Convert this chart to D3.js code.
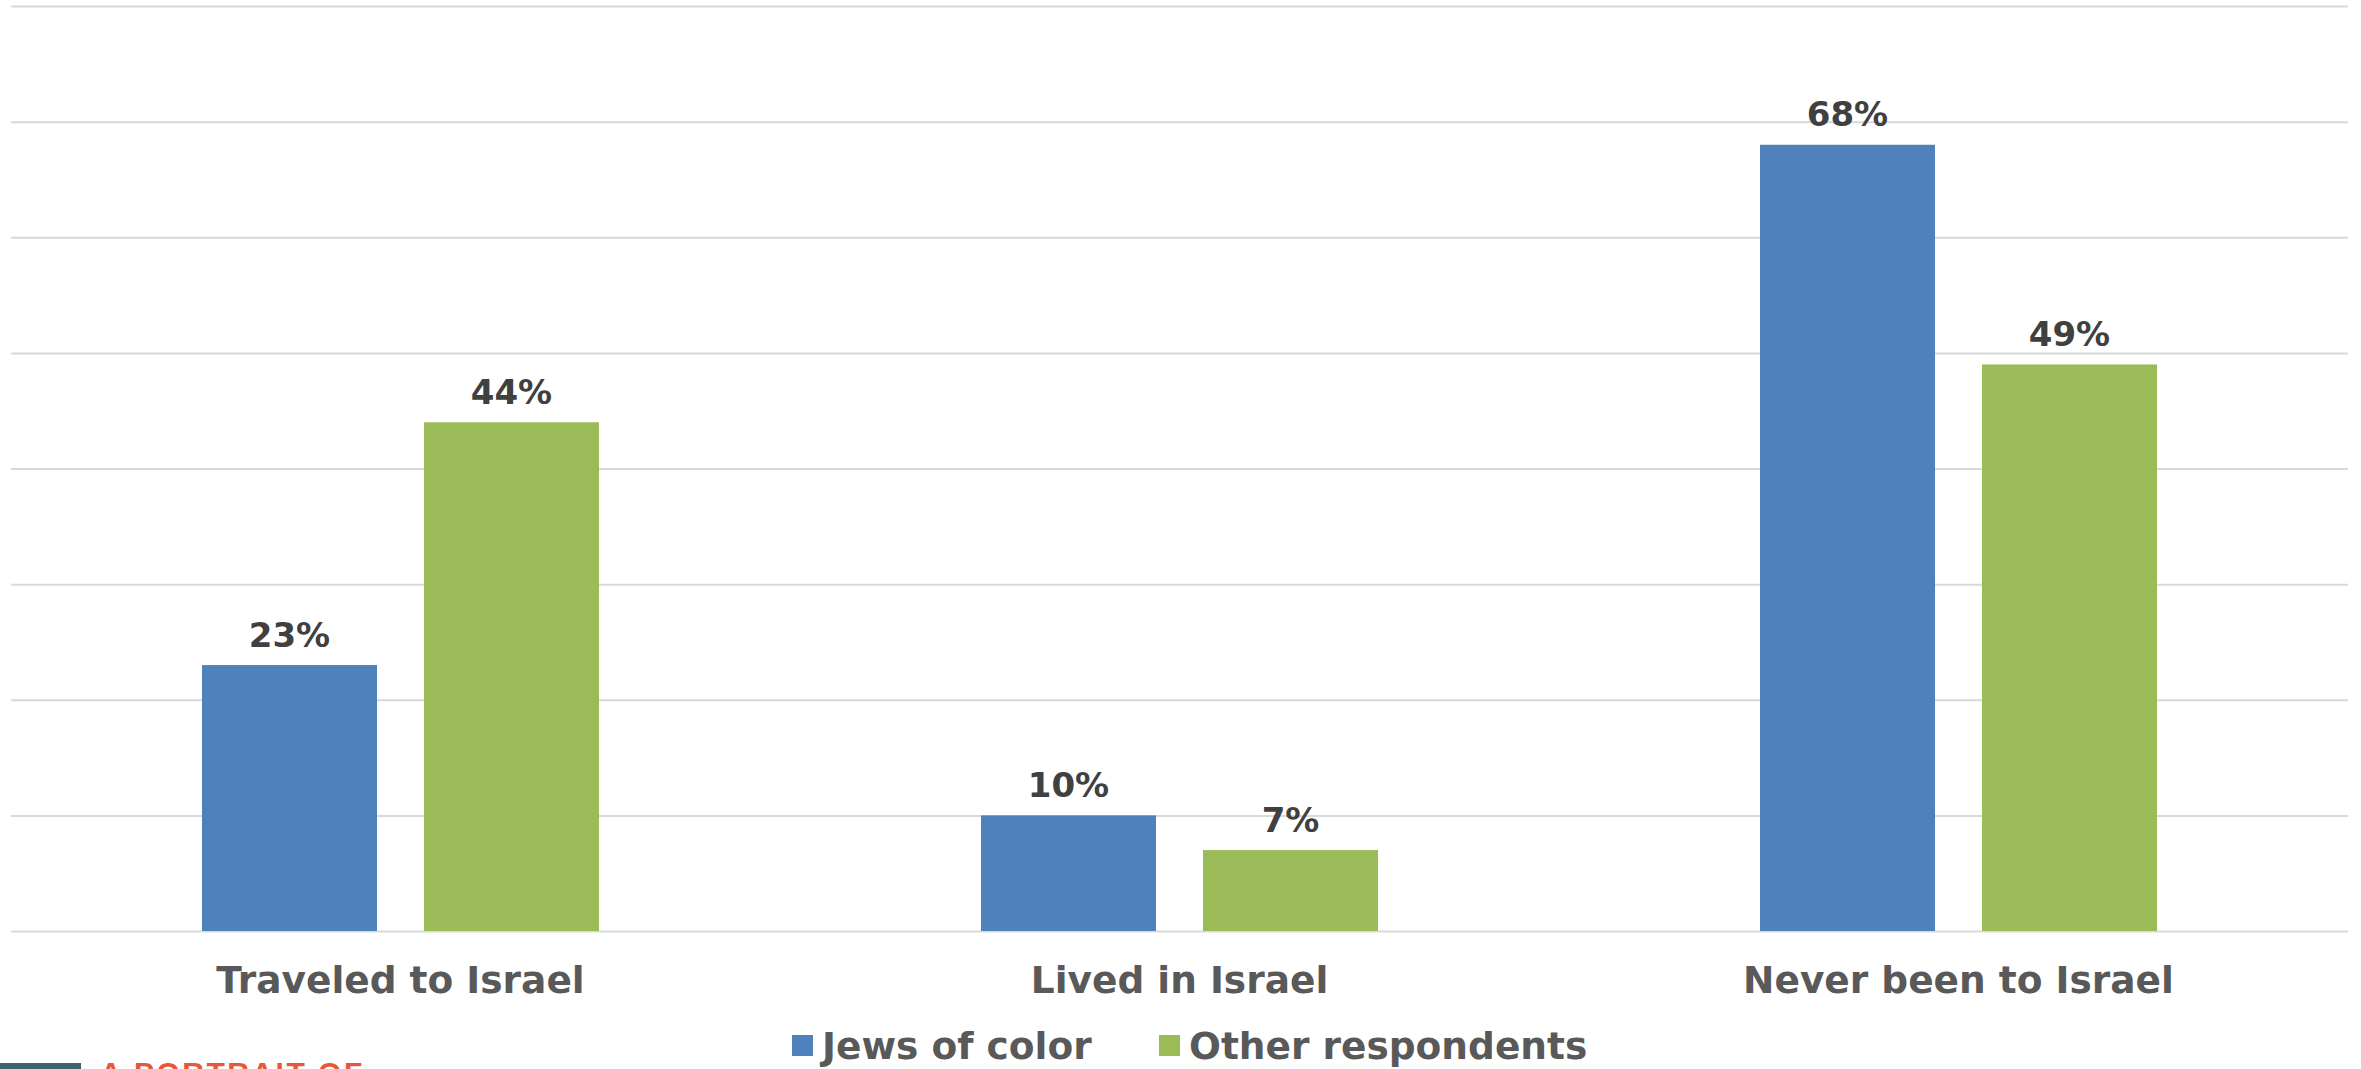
<!DOCTYPE html>
<html>
<head>
<meta charset="utf-8">
<script src="https://cdn.jsdelivr.net/npm/d3@7"></script>
<style>
  html, body { margin: 0; padding: 0; background: #ffffff; overflow: hidden; }
  svg { display: block; }
</style>
</head>
<body>
<svg id="chart" width="2361" height="1069"></svg>
<script>
const categories = ["Traveled to Israel", "Lived in Israel", "Never been to Israel"];
const seriesNames = ["Jews of color", "Other respondents"];
const jewsOfColor = [23, 10, 68];
const otherRespondents = [44, 7, 49];
const yTicks = [0, 10, 20, 30, 40, 50, 60, 70, 80];
const seriesColors = ["#4f81bd", "#9bbb59"];

const seriesValues = [jewsOfColor, otherRespondents];
const data = categories.map((c, i) => ({
  category: c,
  values: seriesNames.map((s, j) => ({ series: s, value: seriesValues[j][i], idx: j }))
}));

const svg = d3.select("#chart");
const plotLeft = 11, plotRight = 2348, plotTop = 6, plotBottom = 931;

const y = d3.scaleLinear().domain([0, 80]).range([plotBottom, plotTop]);
const x0 = d3.scaleBand().domain(categories).range([plotLeft, plotRight]).paddingInner(0).paddingOuter(0);
const groupWidth = 397;
const x1 = d3.scaleBand().domain(seriesNames).range([0, groupWidth]).paddingInner(47 / 222).paddingOuter(0);
const groupOffset = (x0.bandwidth() - groupWidth) / 2;

// gridlines
const yAxis = d3.axisLeft(y).tickValues(yTicks).tickSize(-(plotRight - plotLeft)).tickFormat("");
const gAxis = svg.append("g").attr("transform", `translate(${plotLeft},0)`).call(yAxis);
gAxis.select(".domain").remove();
gAxis.selectAll(".tick line").attr("stroke", "#d9d9d9").attr("stroke-width", 2);

// bars
const groups = svg.append("g").selectAll("g").data(data).join("g")
  .attr("transform", d => `translate(${x0(d.category) + groupOffset},0)`);

groups.selectAll("rect").data(d => d.values).join("rect")
  .attr("x", d => x1(d.series))
  .attr("y", d => y(d.value))
  .attr("width", x1.bandwidth())
  .attr("height", d => y(0) - y(d.value))
  .attr("fill", d => seriesColors[d.idx]);

groups.selectAll("text").data(d => d.values).join("text")
  .attr("x", d => x1(d.series) + x1.bandwidth() / 2)
  .attr("y", d => y(d.value) - 18.5)
  .attr("text-anchor", "middle")
  .attr("font-family", "DejaVu Sans, Verdana, sans-serif")
  .attr("font-weight", "bold")
  .attr("font-size", 34)
  .attr("fill", "#404040")
  .text(d => d.value + "%");

// category labels
const xAxis = d3.axisBottom(x0).tickSize(0).tickPadding(0);
const gX = svg.append("g").attr("transform", `translate(0,${plotBottom})`).call(xAxis);
gX.select(".domain").remove();
gX.selectAll(".tick text")
  .attr("y", 62)
  .attr("dy", 0)
  .attr("font-family", "DejaVu Sans, Verdana, sans-serif")
  .attr("font-weight", "bold")
  .attr("font-size", 37.5)
  .attr("fill", "#595959");

// legend
const legend = svg.append("g");
const legendX = [792, 1159];
seriesNames.forEach((s, i) => {
  legend.append("rect")
    .attr("x", legendX[i]).attr("y", 1035)
    .attr("width", 21).attr("height", 21)
    .attr("fill", seriesColors[i]);
  legend.append("text")
    .attr("x", legendX[i] + 30).attr("y", 1059)
    .attr("font-family", "DejaVu Sans, Verdana, sans-serif")
    .attr("font-weight", "bold")
    .attr("font-size", 37.5)
    .attr("fill", "#595959")
    .text(s);
});

// cropped footer fragment
svg.append("rect").attr("x", 0).attr("y", 1063).attr("width", 81).attr("height", 6).attr("fill", "#3d6470");
svg.append("text")
  .attr("x", 100).attr("y", 1083)
  .attr("font-family", "Liberation Sans, Arial, sans-serif")
  .attr("font-weight", "bold")
  .attr("font-size", 30)
  .attr("letter-spacing", 2.5)
  .attr("fill", "#e8573a")
  .text("A PORTRAIT OF");
</script>
</body>
</html>
